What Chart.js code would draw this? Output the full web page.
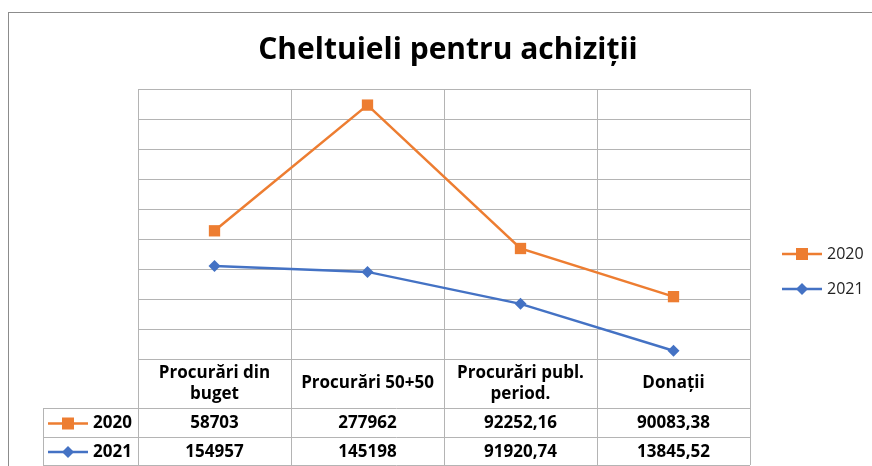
<!DOCTYPE html>
<html>
<head>
<meta charset="utf-8">
<script src="https://cdn.jsdelivr.net/npm/chart.js@4.4.1/dist/chart.umd.min.js"></script>
<style>
  html, body { margin: 0; padding: 0; background: #fff; }
  #wrap { width: 872px; height: 466px; }
</style>
</head>
<body>
<div id="wrap"><canvas id="chart" width="872" height="466"></canvas></div>
<script>
const categories = [['Procurări din', 'buget'], ['Procurări 50+50'], ['Procurări publ.', 'period.'], ['Donații']];
const values2020 = [58703, 277962, 92252.16, 90083.38];
const values2021 = [154957, 145198, 91920.74, 13845.52];
const yTicks = { min: 0, max: 450000, step: 50000 };

const ORANGE = '#ED7D31';
const BLUE = '#4472C4';
const GRID = '#b4b4b4';
const FONT = '"Open Sans", Lato, sans-serif';

const fmt = (v) => String(v).replace('.', ',');

// marker shapes shared by the legend and the data table keys
const drawKey = (ctx, x, y, color, shape) => {
  ctx.strokeStyle = color;
  ctx.lineWidth = 2.5;
  ctx.beginPath();
  ctx.moveTo(x - 20, y);
  ctx.lineTo(x + 20, y);
  ctx.stroke();
  ctx.fillStyle = color;
  ctx.beginPath();
  if (shape === 'rect') {
    ctx.rect(x - 6, y - 6, 12, 12);
  } else {
    ctx.moveTo(x, y - 6);
    ctx.lineTo(x + 6, y);
    ctx.lineTo(x, y + 6);
    ctx.lineTo(x - 6, y);
    ctx.closePath();
  }
  ctx.fill();
};

const tablePlugin = {
  id: 'excelTable',
  beforeDraw(chart) {
    const { ctx, width, height } = chart;
    ctx.save();
    ctx.fillStyle = '#fff';
    ctx.fillRect(0, 0, width, height);
    ctx.strokeStyle = '#8c8c8c';
    ctx.lineWidth = 1;
    ctx.strokeRect(8.5, 12.5, width + 20, height + 20);

    ctx.fillStyle = '#000';
    ctx.font = `bold 30px ${FONT}`;
    ctx.textAlign = 'center';
    ctx.textBaseline = 'alphabetic';
    ctx.fillText('Cheltuieli pentru achiziții', 448, 59);
    ctx.restore();
  },
  beforeDatasetsDraw(chart) {
    const { ctx, chartArea, scales } = chart;
    const x = scales.x;
    const half = (x.getPixelForValue(1) - x.getPixelForValue(0)) / 2;
    const top = chartArea.top;
    const bottom = chartArea.bottom;
    const row1 = 408, row2 = 437, row3 = 465;
    const keyLeft = 43;

    ctx.save();
    ctx.strokeStyle = GRID;
    ctx.lineWidth = 1;
    ctx.beginPath();
    for (let i = 0; i <= categories.length; i++) {
      const px = Math.round(x.getPixelForValue(i) - half) + 0.5;
      ctx.moveTo(px, top);
      ctx.lineTo(px, row3);
    }
    [row1, row2, row3].forEach((ry) => {
      ctx.moveTo(keyLeft, ry + 0.5);
      ctx.lineTo(chartArea.right, ry + 0.5);
    });
    ctx.moveTo(keyLeft + 0.5, row1);
    ctx.lineTo(keyLeft + 0.5, row3);
    ctx.stroke();

    // category header row
    ctx.fillStyle = '#000';
    ctx.font = `bold 17px ${FONT}`;
    ctx.textAlign = 'center';
    ctx.textBaseline = 'middle';
    const headMid = (bottom + row1) / 2;
    categories.forEach((lines, i) => {
      const cx = x.getPixelForValue(i);
      lines.forEach((line, j) => {
        const cy = headMid + (j - (lines.length - 1) / 2) * 21;
        ctx.fillText(line, cx, cy);
      });
    });

    // value rows
    const rows = [
      { label: '2020', data: values2020, color: ORANGE, shape: 'rect', y: (row1 + row2) / 2 },
      { label: '2021', data: values2021, color: BLUE, shape: 'diamond', y: (row2 + row3) / 2 },
    ];
    rows.forEach((r) => {
      drawKey(ctx, 68, r.y + 1, r.color, r.shape);
      ctx.fillStyle = '#000';
      ctx.font = `bold 17px ${FONT}`;
      ctx.textAlign = 'left';
      ctx.fillText(r.label, 93, r.y + 1);
      ctx.textAlign = 'center';
      r.data.forEach((v, i) => ctx.fillText(fmt(v), x.getPixelForValue(i), r.y + 1));
    });

    // legend on the right
    const legend = [
      { label: '2020', color: ORANGE, shape: 'rect', y: 254 },
      { label: '2021', color: BLUE, shape: 'diamond', y: 289 },
    ];
    legend.forEach((l) => {
      drawKey(ctx, 802, l.y, l.color, l.shape);
      ctx.fillStyle = '#222';
      ctx.font = `16px ${FONT}`;
      ctx.textAlign = 'left';
      ctx.fillText(l.label, 827, l.y);
    });
    ctx.restore();
  },
};

new Chart(document.getElementById('chart'), {
  type: 'line',
  data: {
    labels: categories,
    datasets: [
      {
        label: '2021',
        data: values2021,
        borderColor: BLUE,
        backgroundColor: BLUE,
        borderWidth: 2.5,
        pointStyle: 'rectRot',
        pointRadius: 6,
        pointBorderWidth: 0,
        fill: false,
        tension: 0,
      },
      {
        label: '2020',
        data: values2020,
        borderColor: ORANGE,
        backgroundColor: ORANGE,
        borderWidth: 2.5,
        pointStyle: 'rect',
        pointRadius: 8,
        pointBorderWidth: 0,
        fill: false,
        tension: 0,
      },
    ],
  },
  options: {
    responsive: false,
    animation: false,
    devicePixelRatio: 1,
    layout: { padding: { left: 138, top: 89, right: 122, bottom: 107 } },
    plugins: {
      legend: { display: false },
      title: { display: false },
      tooltip: { enabled: false },
    },
    scales: {
      x: {
        offset: true,
        grid: { display: false, drawTicks: false },
        border: { display: false },
        ticks: { display: false },
        afterFit: (s) => { s.height = 0; },
      },
      y: {
        stacked: true,
        min: yTicks.min,
        max: yTicks.max,
        grid: { color: GRID, lineWidth: 1, drawTicks: false },
        border: { display: false },
        ticks: { display: false, stepSize: yTicks.step },
        afterFit: (s) => { s.width = 0; },
      },
    },
  },
  plugins: [tablePlugin],
});
</script>
</body>
</html>
